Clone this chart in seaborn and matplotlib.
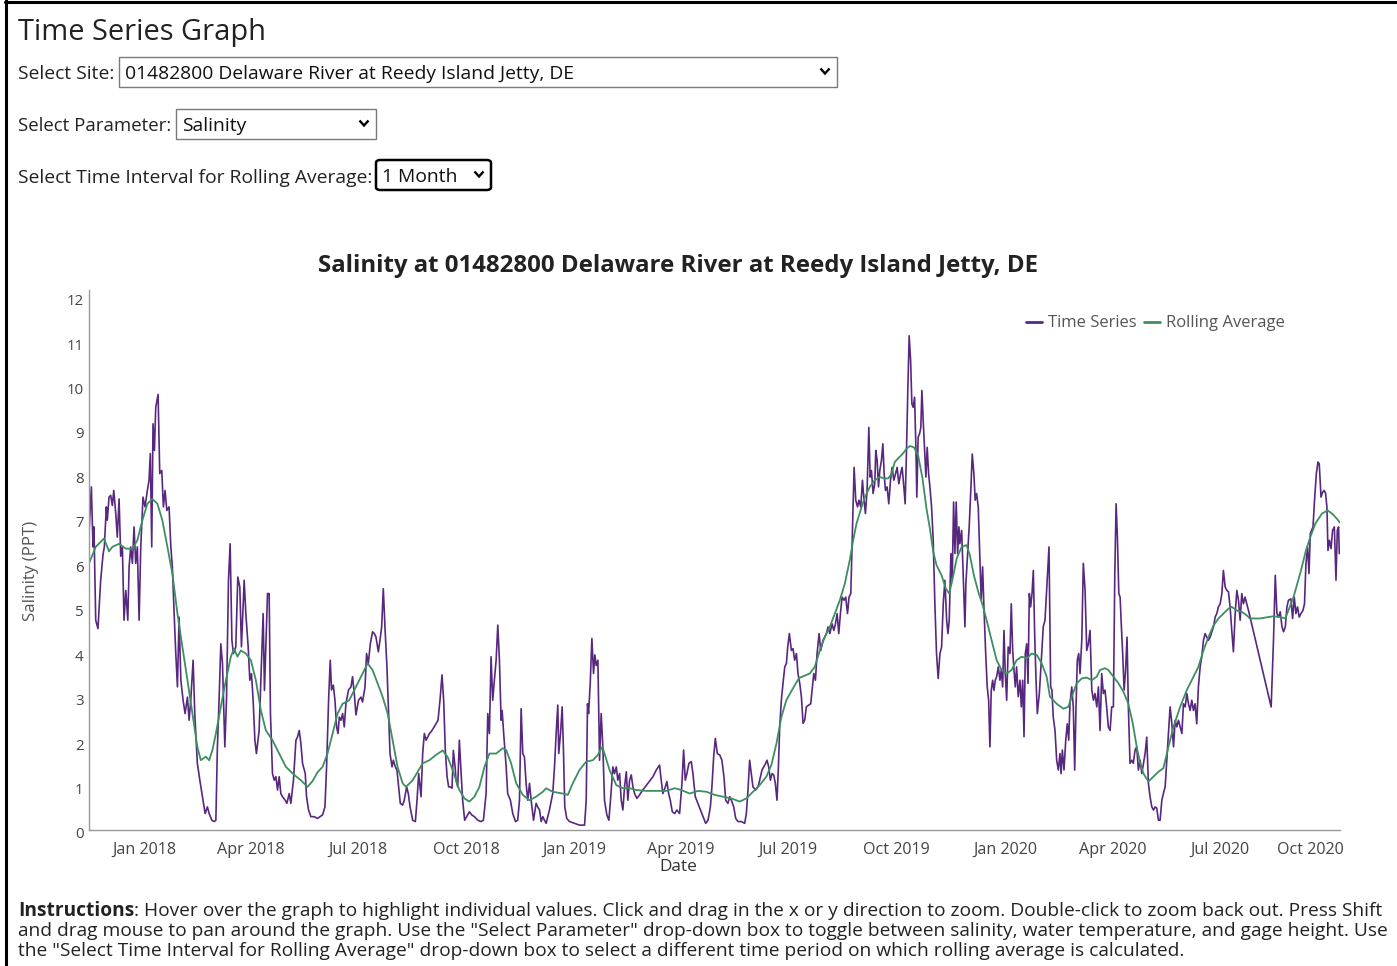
import matplotlib
matplotlib.use("Agg")
import matplotlib.pyplot as plt
import matplotlib.dates as mdates
import matplotlib.transforms as mtransforms
from matplotlib.patches import Rectangle, FancyBboxPatch
from matplotlib.lines import Line2D
import numpy as np
import pandas as pd
import seaborn as sns

# ---------------------------------------------------------------------------
# Salinity readings (PPT) at 01482800 Delaware River at Reedy Island Jetty, DE
# Each pair is (days since 2017-11-15, value).
# ---------------------------------------------------------------------------
START = "2017-11-15"

salinity_2017_2018 = [
    (0.0, 6.67), (2.0, 7.72), (3.4, 6.37), (4.2, 6.82), (5.7, 4.72), (7.6, 4.53), (9.9, 5.62),
    (11.9, 6.2), (13.0, 6.37), (14.7, 7.27), (15.5, 6.97), (17.0, 7.49), (18.4, 7.53), (19.8, 7.3),
    (21.0, 7.64), (22.7, 7.12), (24.0, 6.59), (25.5, 7.45), (26.9, 6.16), (28.3, 6.37), (29.7, 4.72),
    (31.2, 5.39), (32.9, 4.72), (34.0, 5.92), (35.4, 6.37), (36.8, 6.0), (38.2, 6.82), (39.6, 6.0),
    (41.0, 6.37), (42.5, 4.72), (43.9, 6.37), (45.8, 7.49), (47.5, 7.27), (49.5, 7.64), (50.9, 7.87),
    (52.0, 8.47), (53.2, 6.37), (54.3, 9.14), (55.5, 8.54), (56.6, 9.51), (58.6, 9.8), (60.0, 8.02),
    (61.7, 8.09), (63.1, 7.27), (64.5, 7.64), (66.0, 7.19), (67.9, 7.27), (69.4, 6.37), (70.7, 5.92),
    (72.2, 4.87), (73.6, 3.97), (75.0, 3.22), (76.4, 4.79), (77.9, 3.37), (79.8, 2.92), (81.5, 2.62),
    (83.5, 2.99), (84.9, 2.47), (86.3, 2.92), (88.3, 3.82), (89.7, 2.62), (91.9, 1.5), (94.0, 1.12),
    (96.2, 0.75), (98.5, 0.37), (100.4, 0.52), (101.9, 0.37), (104.2, 0.22), (106.1, 0.19),
    (107.6, 0.22), (108.9, 1.87), (110.4, 2.99), (111.8, 4.19), (113.2, 3.75), (115.2, 1.87),
    (116.6, 2.92), (118.3, 5.62), (119.7, 6.44), (121.2, 4.27), (122.5, 3.97), (124.5, 4.12),
    (126.2, 5.69), (127.9, 5.47), (129.3, 4.12), (131.6, 5.62), (133.0, 4.87), (135.0, 4.12),
    (136.4, 3.37), (137.8, 3.52), (139.2, 2.92), (140.7, 2.02), (142.0, 1.72), (144.3, 2.24),
    (146.3, 3.75), (147.7, 4.87), (148.8, 3.14), (150.0, 4.12), (151.4, 5.32), (152.8, 5.32),
    (153.9, 2.62), (155.6, 1.27), (157.1, 1.12), (158.5, 1.2), (159.9, 0.9), (161.3, 1.2),
    (162.7, 0.82), (164.1, 0.75), (166.4, 0.67), (167.8, 0.6), (169.8, 0.82), (171.2, 0.6),
    (173.4, 1.12), (175.5, 2.02), (176.8, 2.09), (178.3, 2.24), (179.7, 1.95), (181.1, 1.5),
    (183.4, 1.27), (184.5, 0.75), (186.2, 0.45), (188.2, 0.3), (191.0, 0.3),
]

salinity_2018_late = [
    (193.8, 0.26), (198.1, 0.34), (200.1, 0.52), (201.5, 1.42), (203.2, 2.92), (204.6, 3.82),
    (205.7, 3.15), (207.2, 3.26), (208.6, 2.92), (210.0, 2.32), (211.2, 2.17), (212.3, 2.54),
    (213.7, 2.47), (215.1, 2.62), (216.5, 2.32), (217.9, 2.84), (220.1, 3.15), (222.2, 3.22),
    (223.5, 3.45), (225.0, 3.07), (226.4, 2.59), (228.6, 2.92), (230.7, 2.99), (232.0, 2.88),
    (234.1, 3.22), (235.4, 3.97), (236.9, 3.75), (238.6, 4.19), (240.5, 4.46), (242.0, 4.42),
    (243.4, 4.34), (245.4, 4.01), (246.8, 4.27), (248.2, 4.57), (249.6, 5.43), (251.0, 4.57),
    (252.7, 3.67), (253.9, 2.77), (255.3, 1.72), (257.0, 1.42), (258.1, 1.57), (259.8, 1.42),
    (261.2, 1.35), (262.6, 0.97), (264.0, 0.6), (266.0, 0.56), (267.4, 0.67), (269.4, 0.97),
    (270.8, 0.82), (272.3, 0.52), (274.5, 0.22), (276.8, 0.19), (278.2, 0.67), (279.6, 1.27),
    (281.6, 0.75), (283.0, 1.72), (284.4, 2.17), (285.9, 2.02), (287.2, 2.09), (288.7, 2.17),
    (290.1, 2.21), (292.1, 2.29), (294.3, 2.39), (296.0, 2.47), (297.7, 2.92), (299.4, 3.49),
    (300.8, 2.92), (302.2, 1.79), (303.7, 1.2), (305.0, 0.97), (306.5, 0.97), (307.9, 0.94),
    (309.0, 1.79), (310.5, 1.42), (311.3, 1.12), (312.7, 0.97), (314.1, 2.02), (315.6, 1.27),
    (316.9, 0.67), (318.6, 0.22), (320.3, 0.3), (322.6, 0.41), (324.6, 0.34), (326.9, 0.3),
    (329.7, 0.22), (332.5, 0.19), (334.5, 0.22), (336.8, 0.82), (338.2, 2.62), (339.6, 2.17),
    (341.0, 3.9), (342.4, 2.92), (343.8, 3.37), (345.3, 3.82), (346.7, 4.61), (348.1, 3.82),
    (349.5, 2.47), (350.4, 2.69), (351.7, 2.17), (353.8, 1.42), (355.1, 0.82), (357.4, 0.67),
    (359.4, 0.37), (361.7, 0.19), (363.6, 0.22), (365.1, 0.67), (366.5, 2.73), (367.9, 1.72),
    (369.3, 1.64), (370.7, 1.05), (372.1, 0.67), (373.6, 1.05), (375.0, 0.67), (377.0, 0.22),
    (379.2, 0.6), (380.6, 0.52), (382.1, 0.45), (383.5, 0.19), (384.9, 0.3), (386.3, 0.22),
    (387.7, 0.15), (389.1, 0.3), (390.5, 0.45),
]

salinity_2019 = [
    (393.3, 0.82), (394.8, 1.42), (396.2, 2.17), (397.6, 2.81), (398.4, 1.72), (399.9, 2.17),
    (401.3, 2.77), (402.4, 1.8), (403.5, 0.52), (405.2, 0.26), (407.5, 0.19), (411.8, 0.15),
    (416.0, 0.11), (420.3, 0.11), (421.7, 0.67), (422.8, 2.84), (423.7, 2.62), (425.1, 3.3),
    (426.5, 4.31), (427.9, 3.52), (429.0, 3.94), (430.2, 3.7), (431.6, 3.82), (433.0, 1.57),
    (434.4, 2.62), (435.8, 1.87), (437.2, 0.67), (439.2, 0.34), (440.9, 0.22), (442.3, 0.67),
    (444.3, 1.42), (445.7, 1.27), (447.2, 1.42), (448.5, 1.12), (450.0, 1.27), (451.4, 0.67),
    (452.8, 0.45), (454.2, 0.97), (455.7, 1.31), (457.0, 0.67), (458.5, 1.12), (459.9, 1.24),
    (461.3, 0.97), (462.7, 0.82), (464.7, 0.71), (466.9, 0.79), (469.7, 0.9), (474.0, 1.05),
    (478.3, 1.2), (481.1, 1.35), (483.9, 1.46), (485.3, 1.12), (486.7, 0.82), (488.8, 0.97),
    (490.1, 1.09), (491.6, 0.82), (493.0, 0.67), (494.7, 0.41), (496.7, 0.37), (498.6, 0.45),
    (500.9, 0.37), (502.9, 1.05), (504.3, 1.8), (505.7, 1.12), (507.1, 1.27), (508.8, 1.5),
    (510.8, 1.54), (512.2, 1.27), (514.2, 0.75), (516.4, 0.6), (518.5, 0.45), (520.7, 0.3),
    (523.0, 0.15), (525.0, 0.22), (527.0, 0.52), (528.3, 0.97), (529.8, 1.65), (531.2, 2.06),
    (532.9, 1.72), (534.9, 1.69), (536.8, 1.57), (538.5, 1.2), (540.0, 0.67), (541.9, 0.6),
    (543.4, 0.75), (544.8, 0.67), (546.8, 0.52), (548.5, 0.26), (550.4, 0.19), (553.3, 0.19),
    (556.1, 0.15), (557.5, 0.37), (558.9, 0.9), (560.3, 1.57), (561.7, 1.27), (563.1, 0.97),
    (565.4, 0.9), (567.4, 0.97), (568.8, 1.12), (570.8, 1.35), (572.2, 1.42), (573.9, 1.5),
    (575.0, 1.57), (576.5, 1.42), (577.9, 1.12), (579.3, 1.27), (580.7, 1.24), (582.1, 1.05),
    (583.5, 0.67), (584.7, 1.42), (585.8, 2.32), (587.2, 2.92), (588.6, 3.3), (590.1, 3.67),
    (591.5, 3.75), (592.6, 4.12), (594.0, 4.42), (595.7, 4.04), (597.1, 4.08), (598.5, 3.82),
    (600.0, 3.97), (601.3, 3.52), (602.8, 3.3), (604.2, 3.0), (605.6, 2.4), (607.0, 2.47),
    (608.4, 2.77), (610.4, 2.81), (612.1, 2.84), (613.6, 3.22), (614.7, 3.52), (616.1, 3.37),
    (617.5, 3.97), (619.2, 4.42), (620.6, 4.04), (622.6, 4.27), (624.0, 4.34), (625.4, 4.42),
    (626.8, 4.57), (628.3, 4.42), (630.2, 4.64), (631.7, 4.49), (633.1, 4.64), (634.5, 4.87),
    (635.9, 4.42), (637.3, 4.87), (638.7, 5.24), (640.4, 5.17), (641.8, 5.24), (643.3, 4.87),
    (644.6, 5.24), (646.1, 5.32), (647.5, 6.74), (648.9, 8.16), (650.3, 7.42), (651.8, 7.27),
    (653.0, 7.42), (654.5, 7.27), (656.0, 7.87), (657.1, 7.49), (658.5, 7.12), (659.9, 7.64),
    (661.4, 9.06), (662.5, 7.94), (663.6, 8.09), (665.0, 7.57), (666.4, 7.79), (667.3, 8.54),
    (668.4, 8.32), (669.6, 7.72), (670.7, 8.09), (672.1, 8.32), (673.3, 8.69), (674.4, 8.01),
    (675.5, 7.64), (676.9, 7.72), (678.3, 7.34), (679.8, 7.87), (681.1, 8.16), (682.6, 7.87),
    (684.0, 8.01), (685.4, 8.16), (686.8, 7.79), (688.3, 8.01), (689.6, 8.16), (691.1, 7.72),
    (692.2, 7.34), (693.4, 8.61), (694.5, 9.96), (695.6, 11.12), (696.8, 10.58), (697.9, 9.59),
    (699.0, 9.51), (700.2, 9.74), (701.3, 8.61), (702.1, 7.49), (703.2, 8.84), (704.4, 8.91),
    (705.5, 9.06), (706.4, 9.89), (707.5, 9.21), (708.6, 8.61), (709.8, 7.94), (710.9, 8.61),
    (712.1, 8.01), (713.2, 7.72), (714.6, 7.27), (716.0, 6.52), (717.4, 5.09), (718.8, 3.97),
    (720.2, 3.41), (721.7, 3.97), (723.1, 4.12), (724.5, 5.09), (725.9, 5.62), (727.4, 4.72),
    (728.5, 4.42), (729.6, 4.72), (731.0, 6.22), (732.1, 5.62), (733.3, 7.38), (734.4, 6.22),
    (735.5, 7.38), (736.7, 6.22), (737.8, 6.82), (738.6, 6.44), (740.1, 6.74), (741.4, 5.77),
    (742.9, 4.57), (743.7, 5.54), (745.2, 6.22), (746.5, 6.82), (748.0, 7.72), (749.1, 8.46),
    (750.5, 8.01), (751.6, 7.42), (752.8, 7.57), (754.2, 7.27), (755.6, 6.07), (756.7, 5.17),
    (757.9, 5.92), (759.0, 5.02), (760.5, 3.97), (761.8, 3.22), (763.0, 2.92), (764.1, 1.87),
    (765.2, 3.14), (766.4, 3.37), (767.5, 3.14), (768.6, 3.37), (769.8, 3.45), (771.2, 3.67),
    (772.6, 3.37), (773.7, 3.6), (774.9, 3.22), (776.0, 4.49), (777.1, 3.52), (778.3, 2.92),
    (779.6, 4.12), (781.1, 3.97), (782.2, 5.09), (783.4, 4.04), (784.5, 3.6), (785.6, 3.22),
    (786.7, 3.67), (788.1, 3.0), (789.6, 3.37), (790.7, 2.77), (791.9, 3.37), (793.0, 2.1),
    (794.1, 3.97), (795.3, 4.19), (796.4, 3.3), (797.5, 5.32), (798.6, 5.02), (799.8, 5.32),
    (800.9, 5.84), (802.1, 4.34), (803.2, 3.37), (804.3, 2.62), (806.0, 3.07), (807.2, 3.6),
]

salinity_2020 = [
    (809.3, 4.57), (810.8, 4.72), (812.2, 5.39), (814.2, 6.37), (815.6, 3.22), (816.7, 3.15),
    (817.8, 2.54), (819.3, 2.24), (820.7, 1.57), (822.1, 1.35), (823.5, 1.72), (824.4, 1.27),
    (825.5, 1.8), (826.9, 1.35), (828.4, 2.02), (829.7, 2.39), (830.9, 2.02), (832.0, 2.84),
    (833.5, 3.22), (834.8, 2.77), (836.0, 1.35), (837.1, 2.77), (838.2, 3.82), (839.4, 3.97),
    (840.5, 3.52), (842.0, 4.27), (843.3, 6.0), (844.8, 5.39), (846.2, 4.04), (847.6, 4.19),
    (849.0, 4.49), (850.5, 3.15), (851.9, 2.92), (853.2, 3.07), (854.7, 2.77), (856.1, 3.22),
    (857.5, 2.24), (858.9, 3.52), (860.3, 3.07), (861.7, 3.15), (863.1, 2.77), (864.5, 2.32),
    (866.0, 2.24), (867.4, 2.77), (868.8, 2.77), (870.0, 5.77), (871.1, 7.34), (872.2, 6.59),
    (873.4, 5.32), (874.5, 5.24), (875.6, 4.57), (876.8, 3.9), (877.9, 3.15), (879.0, 3.52),
    (880.4, 4.34), (881.5, 2.77), (882.9, 1.5), (884.4, 1.57), (885.7, 1.5), (887.2, 1.8),
    (888.6, 1.87), (890.0, 1.35), (891.5, 1.57), (892.9, 1.27), (894.3, 1.5), (895.7, 1.72),
    (897.1, 2.09), (898.5, 1.05), (899.9, 0.75), (901.4, 0.52), (902.8, 0.45), (904.2, 0.52),
    (905.6, 0.49), (907.0, 0.22), (908.4, 0.22), (909.9, 0.67), (911.2, 0.82), (912.7, 0.97),
    (914.1, 1.57), (915.5, 2.17), (916.9, 2.77), (918.4, 2.39), (919.8, 1.87), (921.2, 2.47),
    (922.6, 2.32), (924.0, 2.47), (925.4, 2.32), (926.9, 2.17), (928.2, 2.84), (929.7, 2.77),
    (931.1, 3.07), (932.5, 2.84), (933.9, 2.69), (935.3, 2.92), (936.7, 2.69), (938.1, 2.84),
    (939.5, 2.39), (940.9, 3.22), (942.4, 3.67), (943.8, 3.9), (945.2, 4.27), (946.6, 4.42),
    (948.0, 4.34), (949.4, 4.27), (950.9, 4.34), (952.3, 4.46), (953.7, 4.57), (955.1, 4.79),
    (956.5, 4.87), (957.9, 5.02), (959.4, 5.09), (960.8, 5.32), (962.1, 5.84), (963.6, 5.47),
    (965.0, 5.39), (966.4, 5.36), (967.8, 5.02), (969.2, 4.49), (970.6, 4.01), (972.1, 4.87),
    (973.5, 5.39), (974.9, 5.17), (976.3, 4.72), (977.7, 5.32), (979.1, 5.09), (980.5, 5.24),
    (981.9, 5.09), (983.4, 4.94), (1002.6, 2.77), (1004.6, 4.27), (1006.1, 5.73), (1007.5, 4.87),
    (1008.9, 4.79), (1010.3, 4.91), (1011.8, 4.57), (1013.1, 4.46), (1014.6, 4.57), (1016.0, 5.02),
    (1017.3, 5.17), (1019.4, 5.2), (1020.8, 4.76), (1022.2, 5.24), (1023.6, 4.87), (1025.0, 5.02),
    (1026.4, 4.79), (1027.9, 4.87), (1029.6, 4.94), (1030.9, 5.09), (1032.1, 5.99), (1033.5, 6.37),
    (1034.7, 5.77), (1035.8, 6.67), (1036.9, 6.74), (1038.1, 6.82), (1039.4, 7.42), (1040.9, 8.01),
    (1042.3, 8.28), (1043.4, 8.24), (1044.9, 7.49), (1046.2, 7.6), (1047.6, 7.64), (1048.8, 7.57),
    (1049.9, 7.27), (1050.8, 6.29), (1052.0, 6.52), (1053.4, 6.33), (1054.7, 6.74), (1056.2, 6.82),
    (1057.6, 5.62), (1058.7, 6.74), (1059.8, 6.82), (1060.4, 6.22),
]

# 1-month rolling average, (days since 2017-11-15, value)
rolling_2017_2018 = [
    (0.0, 6.0), (5.7, 6.37), (12.7, 6.56), (17.0, 6.27), (19.8, 6.37), (25.5, 6.44), (31.2, 6.33),
    (36.8, 6.33), (41.0, 6.52), (45.3, 6.97), (49.5, 7.34), (53.7, 7.45), (58.0, 7.34), (62.2, 6.97),
    (66.5, 6.37), (70.7, 5.77), (75.0, 4.87), (79.2, 4.12), (83.5, 3.37), (87.7, 2.62), (91.9, 1.87),
    (94.8, 1.57), (99.0, 1.65), (101.9, 1.57), (104.7, 1.8), (107.6, 2.17), (111.8, 2.77),
    (116.1, 3.37), (120.3, 3.9), (123.1, 4.08), (125.9, 3.9), (128.8, 4.04), (133.0, 3.97),
    (137.3, 3.82), (141.5, 3.37), (145.8, 2.69), (150.0, 2.24), (155.6, 2.02), (161.3, 1.72),
    (167.0, 1.42), (174.0, 1.24), (179.7, 1.12), (185.3, 0.97), (189.6, 1.1), (193.8, 1.3),
    (198.1, 1.42), (202.3, 1.72), (206.6, 2.17), (210.8, 2.62), (215.1, 2.84), (220.7, 2.92),
    (226.4, 3.22), (232.0, 3.52), (236.3, 3.75), (240.5, 3.6), (244.8, 3.3), (249.0, 3.0),
    (253.3, 2.62), (257.5, 2.02), (261.7, 1.42), (266.0, 1.05), (268.9, 0.97), (274.5, 1.12),
    (278.7, 1.31), (283.0, 1.5), (288.7, 1.57), (294.3, 1.69), (300.0, 1.79), (304.2, 1.64),
    (308.4, 1.35), (314.1, 0.9), (318.4, 0.71), (322.6, 0.64), (326.9, 0.75), (331.1, 0.97),
    (335.4, 1.42), (339.6, 1.72), (345.3, 1.72), (350.9, 1.84), (353.8, 1.8), (358.0, 1.5),
    (362.3, 1.05), (367.9, 0.79), (373.6, 0.67), (379.2, 0.75), (384.9, 0.86), (387.7, 0.94),
    (393.3, 0.86),
]

rolling_2019 = [
    (401.8, 0.82), (406.1, 0.79), (410.3, 1.05), (416.0, 1.35), (421.7, 1.54), (427.3, 1.57),
    (431.6, 1.69), (435.3, 1.87), (437.2, 1.72), (441.5, 1.35), (447.2, 1.01), (452.8, 0.94),
    (458.5, 0.94), (464.1, 0.9), (472.6, 0.88), (481.1, 0.88), (489.6, 0.88), (496.7, 0.94),
    (502.3, 0.9), (509.4, 0.82), (516.4, 0.88), (523.6, 0.86), (530.6, 0.79), (537.7, 0.75),
    (544.8, 0.71), (551.9, 0.64), (557.5, 0.71), (563.1, 0.86), (568.8, 1.01), (574.5, 1.2),
    (578.7, 1.46), (583.0, 1.94), (587.2, 2.54), (591.4, 2.92), (597.1, 3.19), (602.2, 3.42),
    (611.3, 3.52), (615.5, 3.67), (619.8, 4.04), (624.0, 4.34), (628.3, 4.57), (632.5, 4.87),
    (636.8, 5.17), (641.0, 5.54), (645.2, 6.07), (648.1, 6.52), (650.9, 6.89), (654.3, 7.19),
    (658.0, 7.49), (662.2, 7.72), (666.4, 7.87), (670.7, 7.94), (674.9, 7.91), (677.8, 7.91),
    (680.6, 8.01), (683.4, 8.28), (686.2, 8.36), (690.0, 8.46), (693.4, 8.58), (696.2, 8.64),
    (699.6, 8.61), (703.2, 8.43), (706.9, 7.91), (710.3, 7.23), (713.2, 6.78), (716.0, 6.26),
    (718.8, 5.96), (723.1, 5.73), (726.7, 5.43), (729.6, 5.32), (732.5, 5.66), (735.9, 6.11),
    (740.1, 6.37), (744.3, 6.41), (747.1, 6.18), (750.5, 5.73), (754.2, 5.36), (757.9, 5.06),
    (761.3, 4.72), (765.5, 4.27), (769.8, 3.82), (774.0, 3.6), (778.3, 3.52), (782.5, 3.6),
    (786.7, 3.82), (791.0, 3.9), (795.3, 3.86), (799.5, 3.97), (803.8, 3.94), (808.0, 3.75),
    (812.2, 3.45),
]

rolling_2020 = [
    (815.0, 3.0), (820.7, 2.84), (826.4, 2.73), (830.6, 2.77), (833.5, 3.0), (837.7, 3.3),
    (842.0, 3.41), (846.2, 3.43), (850.5, 3.37), (854.7, 3.45), (857.5, 3.6), (861.7, 3.64),
    (864.5, 3.6), (868.8, 3.45), (873.1, 3.3), (877.3, 3.11), (881.5, 2.84), (885.3, 2.39),
    (888.6, 1.87), (891.5, 1.5), (894.3, 1.27), (898.5, 1.09), (902.8, 1.2), (907.0, 1.31),
    (911.2, 1.39), (915.5, 1.87), (919.8, 2.32), (925.4, 2.77), (931.1, 3.15), (936.7, 3.45),
    (940.9, 3.67), (945.2, 4.04), (949.4, 4.34), (953.7, 4.6), (957.9, 4.76), (962.1, 4.87),
    (966.4, 4.98), (969.2, 5.02), (973.5, 4.94), (977.7, 4.91), (981.9, 4.83), (984.6, 4.76),
    (993.1, 4.76), (1004.6, 4.81), (1010.3, 4.79), (1014.6, 4.76), (1021.6, 5.24), (1027.9, 5.84),
    (1032.1, 6.29), (1035.8, 6.59), (1040.0, 6.89), (1045.7, 7.12), (1050.5, 7.19), (1054.2, 7.12),
    (1058.5, 7.0), (1060.7, 6.92),
]

y_ticks = list(range(0, 13))
x_tick_months = [1, 4, 7, 10]

SITE = "01482800 Delaware River at Reedy Island Jetty, DE"
PARAMETER = "Salinity"
INTERVAL = "1 Month"
TITLE = f"{PARAMETER} at {SITE}"
INSTRUCTIONS = [
    ": Hover over the graph to highlight individual values. Click and drag in the x or y "
    "direction to zoom. Double-click to zoom back out. Press Shift",
    "and drag mouse to pan around the graph. Use the \"Select Parameter\" drop-down box to "
    "toggle between salinity, water temperature, and gage height. Use",
    "the \"Select Time Interval for Rolling Average\" drop-down box to select a different "
    "time period on which rolling average is calculated.",
]


def to_frame(*segments):
    rows = [p for seg in segments for p in seg]
    days = np.array([r[0] for r in rows], dtype=float)
    vals = np.array([r[1] for r in rows], dtype=float)
    dates = pd.Timestamp(START) + pd.to_timedelta(days, unit="D")
    return pd.DataFrame({"Date": dates, "Salinity": vals})


series = to_frame(salinity_2017_2018, salinity_2018_late, salinity_2019, salinity_2020)
rolling = to_frame(rolling_2017_2018, rolling_2019, rolling_2020)

# ---------------------------------------------------------------------------
sns.set_theme(style="white")
plt.rcParams["font.family"] = ["Open Sans", "DejaVu Sans"]

PURPLE = "#58287f"
GREEN = "#3c8f5f"
TEXT = "#222222"
GREY = "#555555"

W, H = 1397, 966
fig = plt.figure(figsize=(W / 100, H / 100), dpi=100)
fig.patch.set_facecolor("white")
renderer = fig.canvas.get_renderer()


def fx(x):
    return x / W


def fy(y):
    return 1 - y / H


def put(s, x, y, width=None, size=13, ha="left", va="baseline", **kw):
    t = fig.text(fx(x), fy(y), s, fontsize=size, ha=ha, va=va, **kw)
    if width:
        w = t.get_window_extent(renderer).width
        t.set_fontsize(size * width / w)
    return t


def chevron(cx, cy):
    fig.add_artist(Line2D([fx(cx - 4.5), fx(cx), fx(cx + 4.5)],
                          [fy(cy - 2.5), fy(cy + 2.5), fy(cy - 2.5)],
                          transform=fig.transFigure, color="black", lw=1.7,
                          solid_capstyle="butt", solid_joinstyle="miter"))


def dropdown(x0, y0, x1, y1, text, text_w, focused=False):
    if focused:
        box = FancyBboxPatch((fx(x0), fy(y1)), (x1 - x0) / W, (y1 - y0) / H,
                             boxstyle="round,pad=0,rounding_size=0.003",
                             transform=fig.transFigure, fill=False, ec="black", lw=1.8)
    else:
        box = Rectangle((fx(x0), fy(y1)), (x1 - x0) / W, (y1 - y0) / H,
                        transform=fig.transFigure, fill=False, ec="#7a7a7a", lw=1.0)
    fig.add_artist(box)
    put(text, x0 + 6, (y0 + y1) / 2 + 7, width=text_w, size=13, color="#111111")
    chevron(x1 - 12, (y0 + y1) / 2 - 1)


# page frame
fig.add_artist(Line2D([fx(5.5), fx(5.5)], [0, 1], transform=fig.transFigure, color="black", lw=2.2))
fig.add_artist(Line2D([fx(5), 1], [fy(1.5), fy(1.5)], transform=fig.transFigure, color="black", lw=2.2))

# page header and controls
put("Time Series Graph", 18, 40, width=247, size=20, color=TEXT)
put("Select Site:", 18, 79, width=96, size=13, color=TEXT)
dropdown(119, 57, 837, 87, SITE, 445)
put("Select Parameter:", 18, 131, width=153, size=13, color=TEXT)
dropdown(176, 109, 376, 139, PARAMETER, 64)
put("Select Time Interval for Rolling Average:", 18, 183, width=353, size=13, color=TEXT)
dropdown(376, 160, 491, 190, INTERVAL, 75, focused=True)

# chart title
put(TITLE, 678, 272, width=720, size=16, ha="center", weight="bold", color=TEXT)

# ---------------------------------------------------------------------------
ax = fig.add_axes([fx(89), fy(830), (1340 - 89) / W, (830 - 290) / H])
sns.lineplot(data=series, x="Date", y="Salinity", ax=ax, color=PURPLE, lw=1.2,
             estimator=None, sort=False, label="Time Series")
sns.lineplot(data=rolling, x="Date", y="Salinity", ax=ax, color=GREEN, lw=1.3,
             estimator=None, sort=False, label="Rolling Average")

ax.set_xlim(pd.Timestamp(START), pd.Timestamp(START) + pd.Timedelta(days=1061))
ax.set_ylim(0, 12.15)
ax.set_yticks(y_ticks)
ax.xaxis.set_major_locator(mdates.MonthLocator(bymonth=x_tick_months))
ax.xaxis.set_major_formatter(mdates.DateFormatter("%b %Y"))
ax.grid(False)
sns.despine(ax=ax)
for side in ("left", "bottom"):
    ax.spines[side].set_color("#9a9a9a")
    ax.spines[side].set_linewidth(1.0)
ax.tick_params(axis="y", length=0, pad=4, labelsize=10.8, labelcolor="#444444")
ax.tick_params(axis="x", length=0, pad=8.5, labelsize=11.6, labelcolor="#444444")

ax.set_ylabel("Salinity (PPT)", fontsize=12.2, color=GREY)
ax.yaxis.set_label_coords(-0.040, 0.48)
ax.set_xlabel("Date", fontsize=12.4, color="#333333")
ax.xaxis.set_label_coords((678 - 89) / (1340 - 89), -0.054)

leg = ax.legend(loc="upper right", bbox_to_anchor=(0.956, 0.953), ncol=2, frameon=False,
                fontsize=12.0, handlelength=1.0, handletextpad=0.35, columnspacing=0.4,
                labelcolor=GREY, borderaxespad=0, borderpad=0)
for h in leg.legend_handles:
    h.set_linewidth(2.0)

# instructions
ref = put(INSTRUCTIONS[1], 18, 936, width=1369, size=12, color=TEXT)
fs = ref.get_fontsize()
bold = put("Instructions", 18, 916, size=fs, color=TEXT, weight="bold")
bw = bold.get_window_extent(renderer).width
put(INSTRUCTIONS[0], 18 + bw, 916, size=fs, color=TEXT)
put(INSTRUCTIONS[2], 18, 956, size=fs, color=TEXT)

# keep the last date label inside the plotting area; nudge value labels down
fig.canvas.draw()
labels = [t for t in ax.get_xticklabels() if t.get_text()]
if labels:
    last = labels[-1]
    last.set_transform(last.get_transform()
                       + mtransforms.ScaledTranslation(-0.18, 0, fig.dpi_scale_trans))
for t in ax.get_yticklabels():
    t.set_transform(t.get_transform()
                    + mtransforms.ScaledTranslation(0, -0.03, fig.dpi_scale_trans))

fig.savefig("out.png", dpi=100, facecolor="white")
